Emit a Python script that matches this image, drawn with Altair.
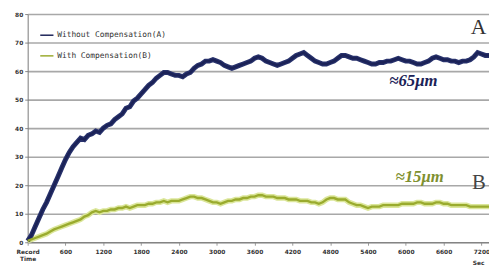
import altair as alt
import pandas as pd

times = list(range(0, 7321, 60))

without_comp = [
    0.5, 2.5, 5.5, 8.5, 11.5, 14, 17, 20, 23, 26,
    29, 31.5, 33.5, 35, 36.5, 36, 37.5, 38, 39, 38.5,
    40, 41, 41.5, 43, 44, 45, 47, 47.5, 49.5, 50.5,
    52, 53.5, 55, 56, 57.5, 58.5, 59.5, 59.5, 59, 58.5,
    58.5, 58, 59, 59.5, 61, 62, 62.5, 63.5, 63.5, 64,
    63.5, 63, 62, 61.5, 61, 61.5, 62, 62.5, 63, 63.5,
    64.5, 65, 64.5, 63.5, 63, 62.5, 62, 62.5, 63, 63.5,
    64.5, 65.5, 66, 66.5, 65.5, 64.5, 63.5, 63, 62.5, 62.5,
    63, 63.5, 64.5, 65.5, 65.5, 65, 64.5, 64.5, 64, 63.5,
    63, 62.5, 62.5, 63, 63, 63.5, 63.5, 64, 64.5, 64,
    63.5, 63.5, 63, 62.5, 62.5, 63, 63.5, 64.5, 65, 64.5,
    64, 64, 63.5, 63.5, 63, 63.5, 63.5, 64, 65, 66.5,
    66, 65.5, 65.5,
]

with_comp = [
    0.5, 1, 1.5, 2, 2.5, 3, 3.8, 4.5, 5, 5.5,
    6, 6.5, 7, 7.5, 8, 9, 9.5, 10.5, 11, 10.5,
    11, 11, 11.5, 11.5, 12, 12, 12.5, 12, 12.5, 13,
    13, 13, 13.5, 13.5, 14, 14, 14.5, 14, 14.5, 14.5,
    14.5, 15, 15.5, 16, 16, 15.5, 15.5, 15, 14.5, 14,
    14, 13.5, 14, 14.5, 14.5, 15, 15, 15.5, 15.5, 16,
    16, 16.5, 16.5, 16, 16, 16, 15.5, 15.5, 15.5, 15,
    15, 15, 14.5, 14.5, 14.5, 14, 14, 13.5, 14, 15,
    15.5, 15.5, 15, 15, 15, 14, 13.5, 13, 13, 12.5,
    12, 12.5, 12.5, 12.5, 13, 13, 13, 13, 13, 13.5,
    13.5, 13.5, 13.5, 14, 14, 13.5, 13.5, 13.5, 14, 14,
    13.5, 13.5, 13, 13, 13, 13, 13, 12.5, 12.5, 12.5,
    12.5, 12.5, 12.5,
]

series_names = ["Without Compensation(A)", "With Compensation(B)"]
series_colors = ["#1b2257", "#9aab2e"]

y_ticks = [0, 10, 20, 30, 40, 50, 60, 70, 80]
x_ticks = [0, 600, 1200, 1800, 2400, 3000, 3600, 4200, 4800, 5400, 6000, 6600, 7200]

ann_text = ["A", "≈65μm", "≈15μm", "B"]
ann_t = [7030, 6120, 6220, 7050]
ann_v = [75.3, 56.5, 22.8, 20.8]
ann_color = ["#333333", "#1b2257", "#7f9030", "#444444"]
ann_size = [22, 17, 17, 21]
ann_style = ["normal", "italic", "italic", "normal"]
ann_weight = ["normal", "bold", "bold", "normal"]
ann_align = ["left", "center", "center", "left"]

n = min(len(times), len(without_comp), len(with_comp))
df = pd.DataFrame({
    "t": times[:n] * 2,
    "v": without_comp[:n] + with_comp[:n],
    "s": [series_names[0]] * n + [series_names[1]] * n,
})
df_a = df[df["s"] == series_names[0]]
df_b = df[df["s"] == series_names[1]]

x_scale = alt.Scale(domain=[0, 7320], nice=False, zero=True)
y_scale = alt.Scale(domain=[0, 80], nice=False)

x_axis = alt.Axis(
    values=x_ticks, grid=False, labelFontSize=6, labelFont="DejaVu Sans",
    labelFontWeight="bold", labelColor="#333333", labelOverlap=False,
    labelExpr="datum.value == 0 ? ['Record', 'Time'] : datum.label",
    format="d", tickSize=3, tickColor="#999999", domainColor="#777777",
    labelPadding=3, title="Sec", titleFontSize=6, titleFont="DejaVu Sans",
    titleFontWeight="bold", titleColor="#333333", titleX=458, titleY=18,
    titleAlign="center", titleBaseline="top", labelFlush=False)
y_axis = alt.Axis(
    values=y_ticks, grid=True, gridColor="#a8a8a8", gridWidth=1.6,
    labelFontSize=6, labelFont="DejaVu Sans", labelFontWeight="bold",
    labelColor="#333333", tickSize=3, tickColor="#888888", labelOverlap=False,
    domainColor="#777777", title=None, labelPadding=2)

x_enc = alt.X("t:Q", scale=x_scale, axis=x_axis)
y_enc = alt.Y("v:Q", scale=y_scale, axis=y_axis)

halo_b = alt.Chart(df_b).mark_line(color="#dbe69a", strokeWidth=5.5).encode(
    x=x_enc, y=y_enc)
halo_a = alt.Chart(df_a).mark_line(color="#28326c", strokeWidth=5).encode(
    x=x_enc, y=y_enc)

lines = alt.Chart(df).mark_line(strokeWidth=2.4).encode(
    x=x_enc, y=y_enc,
    color=alt.Color("s:N", scale=alt.Scale(domain=series_names, range=series_colors),
                    sort=series_names,
                    legend=alt.Legend(orient="none", legendX=12, legendY=14, title=None,
                                      symbolType="stroke", symbolStrokeWidth=1.5,
                                      symbolSize=180, labelFontSize=8,
                                      labelFont="DejaVu Sans Mono", labelColor="#333333",
                                      rowPadding=9, labelOffset=3)),
    detail="s:N",
)

ann_df = pd.DataFrame({
    "t": ann_t, "v": ann_v, "txt": ann_text, "c": ann_color,
})
ann_layers = []
for i in range(len(ann_text)):
    ann_layers.append(
        alt.Chart(ann_df.iloc[[i]]).mark_text(
            font="Liberation Serif", fontSize=ann_size[i], fontStyle=ann_style[i],
            fontWeight=ann_weight[i], color=ann_color[i], align=ann_align[i],
            baseline="middle").encode(x=x_enc, y=y_enc, text="txt:N")
    )

chart = alt.layer(halo_b, halo_a, lines, *ann_layers).properties(
    width=469, height=232,
    autosize=alt.AutoSizeParams(type="none"),
    padding={"left": 20, "top": 4, "right": 0, "bottom": 24},
    background="white",
).configure_view(stroke=None)

chart.save("out.html", embed_options={"renderer": "svg", "actions": False})
